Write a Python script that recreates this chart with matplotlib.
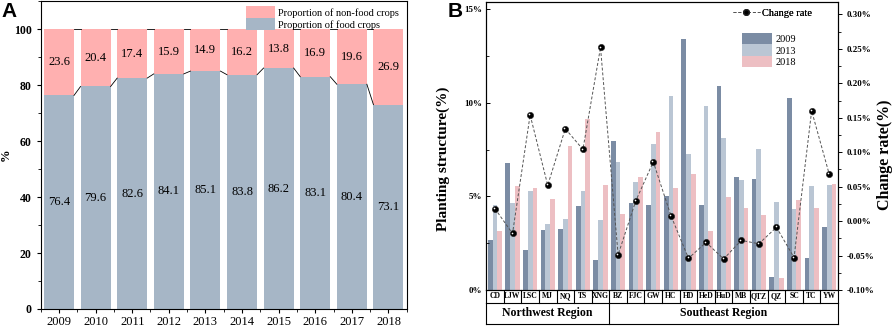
import numpy as np
import matplotlib
matplotlib.use("Agg")
from matplotlib import pyplot as plt, transforms
from matplotlib.ticker import MultipleLocator, FuncFormatter
from matplotlib.lines import Line2D

plt.rcParams['font.family'] = ['Liberation Serif', 'DejaVu Serif']

# panel A data
years = ['2009', '2010', '2011', '2012', '2013', '2014', '2015', '2016', '2017', '2018']
food = [76.4, 79.6, 82.6, 84.1, 85.1, 83.8, 86.2, 83.1, 80.4, 73.1]
nonfood = [23.6, 20.4, 17.4, 15.9, 14.9, 16.2, 13.8, 16.9, 19.6, 26.9]

# panel B data
counties = ['CD', 'LJW', 'LSC', 'MJ', 'NQ', 'TS', 'XNG', 'BZ', 'FJC', 'GW',
            'HC', 'HD', 'HeD', 'HuD', 'MB', 'QTZ', 'QZ', 'SC', 'TC', 'YW']
s2009 = [2.69, 6.78, 2.15, 3.20, 3.27, 4.47, 1.60, 7.97, 4.66, 4.52,
         5.05, 13.40, 4.56, 10.93, 6.03, 5.91, 0.71, 10.28, 1.69, 3.35]
s2013 = [4.54, 4.63, 5.30, 3.52, 3.77, 5.28, 3.72, 6.85, 5.75, 7.81,
         10.39, 7.28, 9.82, 8.11, 5.89, 7.53, 4.73, 4.31, 5.55, 5.62]
s2018 = [3.15, 5.57, 5.44, 4.86, 7.69, 9.13, 5.62, 4.07, 6.03, 8.43,
         5.46, 6.19, 3.17, 4.96, 4.38, 3.99, 0.64, 4.80, 4.40, 5.64]
rate = [0.018, -0.018, 0.154, 0.052, 0.134, 0.104, 0.252, -0.049, 0.029, 0.086,
        0.008, -0.054, -0.031, -0.055, -0.028, -0.033, -0.009, -0.053, 0.160, 0.068]
regions = ['Northwest Region', 'Southeast Region']
region_sizes = [7, 13]

PINK_A = '#FFB0B0'
BLUE_A = '#A6B6C6'
C09 = '#7B8CA4'
C13 = '#BAC6D4'
C18 = '#EDBFC3'

fig = plt.figure(figsize=(8.92, 3.31), dpi=100)

# ---------------- panel A ----------------
axA = fig.add_axes([0.0456, 0.0665, 0.4104, 0.929])
x = np.arange(len(years))
w = 0.82
axA.bar(x, food, w, color=BLUE_A, label='Proportion of food crops')
axA.bar(x, nonfood, w, bottom=food, color=PINK_A, label='Proportion of non-food crops')
tops = np.array(food) + np.array(nonfood)
for i in range(len(years) - 1):
    axA.plot([i + w / 2, i + 1 - w / 2], [food[i], food[i + 1]], color='k', lw=0.6)
    axA.plot([i + w / 2, i + 1 - w / 2], [tops[i], tops[i + 1]], color='k', lw=0.6)
for i in range(len(years)):
    axA.text(i, food[i] / 2, f'{food[i]:.1f}', ha='center', va='center', fontsize=9)
    axA.text(i, food[i] + nonfood[i] / 2, f'{nonfood[i]:.1f}', ha='center', va='center', fontsize=9)

axA.set_xlim(-0.5, len(years) - 0.5)
axA.set_ylim(0, 110)
axA.set_yticks([0, 20, 40, 60, 80, 100])
axA.yaxis.set_minor_locator(MultipleLocator(10))
axA.set_xticks(x)
axA.set_xticklabels(years, fontsize=9)
axA.set_xticks(np.arange(-0.5, len(years), 1), minor=True)
axA.tick_params(axis='y', labelsize=8.5, length=3, width=0.8)
axA.tick_params(axis='y', which='minor', length=2, width=0.6)
axA.tick_params(axis='x', length=3, width=0.8, pad=2)
axA.tick_params(axis='x', which='minor', length=2, width=0.6)
for lab in axA.get_yticklabels():
    lab.set_fontweight('bold')
axA.set_ylabel('%', fontsize=9, fontweight='bold')
axA.yaxis.set_label_coords(-0.078, 0.5)
h, l = axA.get_legend_handles_labels()
axA.legend(h[::-1], l[::-1], loc='upper right', bbox_to_anchor=(0.995, 1.005), frameon=False,
           fontsize=7.5, handlelength=2.8, handleheight=1.4, labelspacing=0.0,
           handletextpad=0.3, borderaxespad=0.2)
fig.text(0.002, 0.995, 'A', fontsize=15, fontweight='bold', family='Liberation Sans', va='top')

# ---------------- panel B ----------------
axB = fig.add_axes([0.545, 0.124, 0.3945, 0.870])
xb = np.arange(len(counties))
bw = 0.27
axB.bar(xb - bw, s2009, bw, color=C09, label='2009')
axB.bar(xb, s2013, bw, color=C13, label='2013')
axB.bar(xb + bw, s2018, bw, color=C18, label='2018')
axB.set_xlim(-0.5, len(counties) - 0.5)
axB.set_ylim(0, 15.4)
axB.yaxis.set_major_locator(MultipleLocator(5))
axB.yaxis.set_minor_locator(MultipleLocator(2.5))
axB.yaxis.set_major_formatter(FuncFormatter(lambda v, p: f'{v:.0f}%'))
axB.set_xticks([])
axB.tick_params(axis='y', direction='in', labelsize=6.5, length=3, width=0.7, pad=3)
axB.tick_params(axis='y', which='minor', direction='in', length=1.8, width=0.6)
for lab in axB.get_yticklabels():
    lab.set_fontweight('bold')
axB.set_ylabel('Planting structure(%)', fontsize=11, fontweight='bold')
axB.yaxis.set_label_coords(-0.102, 0.455)

ax2 = axB.twinx()
ax2.plot(xb, rate, ls=(0, (3, 2)), color='#555555', lw=0.7, marker='o', ms=4.5,
         mfc='black', mec='#222222', mew=0.4, label='Change rate')
hl = transforms.offset_copy(ax2.transData, fig=fig, x=-0.6, y=0.6, units='points')
ax2.plot(xb, rate, ls='none', marker='o', ms=1.2, mfc='white', mec='none', transform=hl)
ax2.set_ylim(-0.1, 0.318)
ax2.yaxis.set_major_locator(MultipleLocator(0.05))
ax2.yaxis.set_minor_locator(MultipleLocator(0.025))
ax2.yaxis.set_major_formatter(FuncFormatter(lambda v, p: f'{v:.2f}%'))
ax2.tick_params(axis='y', labelsize=6.5, length=3, width=0.7, pad=3)
ax2.tick_params(axis='y', which='minor', length=1.8, width=0.6)
for lab in ax2.get_yticklabels():
    lab.set_fontweight('bold')
ax2.set_ylabel('Change rate(%)', fontsize=11.5, fontweight='bold')
ax2.yaxis.set_label_coords(1.112, 0.47)

leg1 = ax2.legend(handles=[Line2D([0], [0], ls=(0, (3, 2)), color='#555555', lw=0.7, marker='o',
                                  ms=4, mfc='black', mec='#222222')],
                  labels=['Change rate'], loc='upper right', bbox_to_anchor=(0.94, 0.995),
                  frameon=False, fontsize=7.5, handlelength=2.6, handletextpad=0.2,
                  borderaxespad=0.1)
ax2.add_artist(leg1)
axB.legend(loc='upper right', bbox_to_anchor=(0.895, 0.91), frameon=False, fontsize=7.5,
           handlelength=2.9, handleheight=1.3, labelspacing=0.0, handletextpad=0.3,
           borderaxespad=0.1)

# category and region boxes under panel B
trans = axB.get_xaxis_transform()
y_cat = -0.045
y_reg = -0.118
lo, hi = -0.5, len(counties) - 0.5
for k in range(len(counties) + 1):
    xb_edge = k - 0.5
    axB.plot([xb_edge, xb_edge], [0, y_cat], color='k', lw=0.8, transform=trans, clip_on=False)
for i, c in enumerate(counties):
    axB.text(i, y_cat / 2, c, ha='center', va='center', fontsize=5.5, fontweight='bold',
             transform=trans)
axB.plot([lo, hi], [y_cat, y_cat], color='k', lw=0.8, transform=trans, clip_on=False)
axB.plot([lo, hi], [y_reg, y_reg], color='k', lw=0.8, transform=trans, clip_on=False)
start = 0
for name, n in zip(regions, region_sizes):
    axB.plot([start - 0.5, start - 0.5], [y_cat, y_reg], color='k', lw=0.8, transform=trans,
             clip_on=False)
    axB.text(start + (n - 1) / 2, (y_cat + y_reg) / 2, name, ha='center', va='center',
             fontsize=8.5, fontweight='bold', transform=trans)
    start += n
axB.plot([hi, hi], [y_cat, y_reg], color='k', lw=0.8, transform=trans, clip_on=False)

fig.text(0.502, 0.995, 'B', fontsize=15, fontweight='bold', family='Liberation Sans', va='top')

fig.savefig('out.png', dpi=100)
